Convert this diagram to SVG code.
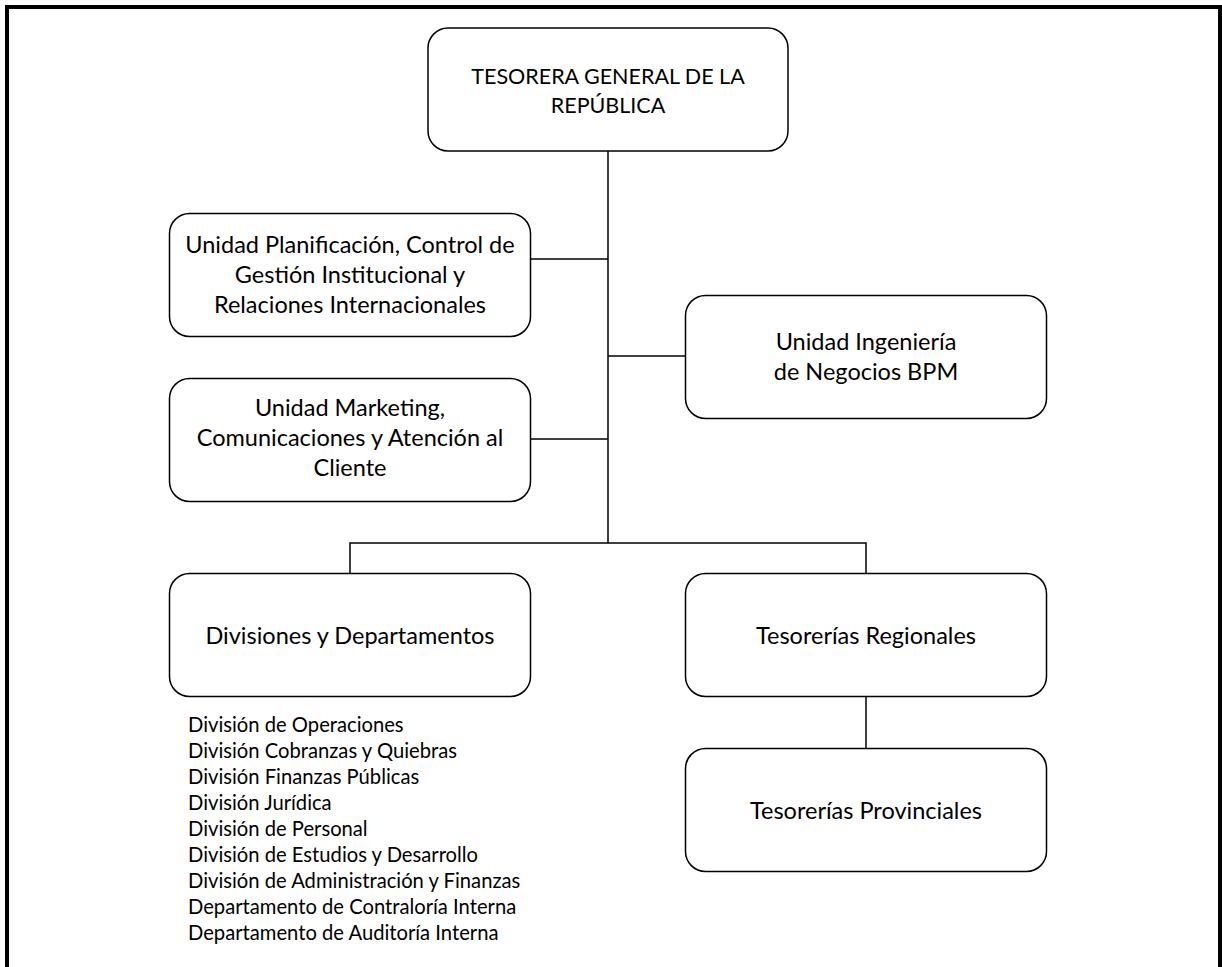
<svg xmlns="http://www.w3.org/2000/svg" width="1222" height="967" viewBox="0 0 1222 967">
<style>
.box{fill:#fff;stroke:#000;stroke-width:1.5}
.t{font-family:Lato,"Liberation Sans",sans-serif;font-size:23.5px;fill:#000;text-anchor:middle}
.cap{font-size:21.5px}
.l{font-family:Lato,"Liberation Sans",sans-serif;font-size:20.2px;fill:#000}
.c{stroke:#000;stroke-width:1.5;fill:none}
</style>
<rect x="0" y="0" width="1222" height="967" fill="#fff"/>
<g id="frame" fill="#000">
<rect x="5" y="5" width="1217" height="4"/>
<rect x="5" y="5" width="4" height="962"/>
<rect x="1218" y="5" width="4" height="962"/>
</g>
<g id="connectors">
<line class="c" x1="608" y1="151" x2="608" y2="543"/>
<line class="c" x1="530" y1="259" x2="608" y2="259"/>
<line class="c" x1="608" y1="356" x2="685" y2="356"/>
<line class="c" x1="530" y1="439" x2="608" y2="439"/>
<polyline class="c" points="350,573 350,543 866,543 866,573"/>
<line class="c" x1="866" y1="697" x2="866" y2="748"/>
</g>
<g id="tesorera">
<rect class="box" x="428" y="28" width="360" height="123" rx="20"/>
<text class="t cap" x="608" y="84">TESORERA GENERAL DE LA</text>
<text class="t cap" x="608" y="113">REPÚBLICA</text>
</g>
<g id="planificacion">
<rect class="box" x="169.5" y="213.5" width="361" height="123" rx="20"/>
<text class="t" x="350" y="253">Unidad Planificación, Control de</text>
<text class="t" x="350" y="283">Gestión Institucional y</text>
<text class="t" x="350" y="313">Relaciones Internacionales</text>
</g>
<g id="ingenieria">
<rect class="box" x="685.5" y="295.5" width="361" height="123" rx="20"/>
<text class="t" x="866" y="350">Unidad Ingeniería</text>
<text class="t" x="866" y="380">de Negocios BPM</text>
</g>
<g id="marketing">
<rect class="box" x="169.5" y="378.5" width="361" height="123" rx="20"/>
<text class="t" x="350" y="416">Unidad Marketing,</text>
<text class="t" x="350" y="446">Comunicaciones y Atención al</text>
<text class="t" x="350" y="476">Cliente</text>
</g>
<g id="divisiones">
<rect class="box" x="169.5" y="573.5" width="361" height="123" rx="20"/>
<text class="t" x="350" y="644">Divisiones y Departamentos</text>
</g>
<g id="regionales">
<rect class="box" x="685.5" y="573.5" width="361" height="123" rx="20"/>
<text class="t" x="866" y="644">Tesorerías Regionales</text>
</g>
<g id="provinciales">
<rect class="box" x="685.5" y="748.5" width="361" height="123" rx="20"/>
<text class="t" x="866" y="819">Tesorerías Provinciales</text>
</g>
<g id="lista">
<text class="l" x="188" y="732">División de Operaciones</text>
<text class="l" x="188" y="758">División Cobranzas y Quiebras</text>
<text class="l" x="188" y="784">División Finanzas Públicas</text>
<text class="l" x="188" y="810">División Jurídica</text>
<text class="l" x="188" y="836">División de Personal</text>
<text class="l" x="188" y="862">División de Estudios y Desarrollo</text>
<text class="l" x="188" y="888">División de Administración y Finanzas</text>
<text class="l" x="188" y="914">Departamento de Contraloría Interna</text>
<text class="l" x="188" y="940">Departamento de Auditoría Interna</text>
</g>
</svg>
